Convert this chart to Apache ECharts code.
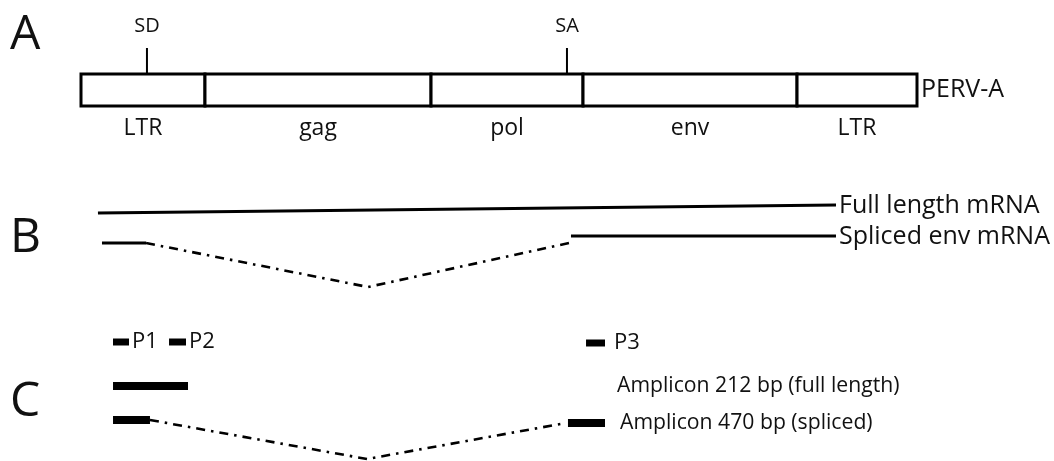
<!DOCTYPE html>
<html><head><meta charset="utf-8">
<script src="https://cdn.jsdelivr.net/npm/echarts@6/dist/echarts.min.js"></script>
<style>html,body{margin:0;padding:0;background:#fff}#c{width:1054px;height:461px}</style>
</head><body><div id="c"></div>
<script>
// ---- data (x in % of provirus length) ----
const regionNames = ['LTR', 'gag', 'pol', 'env', 'LTR'];
const regionStarts = [0, 14.83, 41.87, 60.05, 85.65];
const regionEnds = [14.83, 41.87, 60.05, 85.65, 100];
const genomeLabel = 'PERV-A';
const siteNames = ['SD', 'SA'];
const sitePositions = [7.89, 58.13];

const transcriptLabels = ['Full length mRNA', 'Spliced env mRNA'];
const fullLengthX = [2.03, 90.31];
const splicedExon1X = [2.51, 7.78];
const splicedIntronX = [7.78, 34.33, 58.37];
const splicedExon2X = [58.61, 90.31];

const primerNames = ['P1', 'P2', 'P3'];
const primerStarts = [3.83, 10.53, 60.41];
const primerEnds = [5.74, 12.56, 62.68];

const ampliconLabels = ['Amplicon 212 bp (full length)', 'Amplicon 470 bp (spliced)'];
const ampFullX = [3.83, 12.8];
const ampSplicedExon1X = [3.83, 8.25];
const ampSplicedIntronX = [8.25, 34.21, 58.01];
const ampSplicedExon2X = [58.25, 62.68];

const panelLetters = ['A', 'B', 'C'];

// ---- layout (vertical track positions, y units top-down) ----
const L = {
  siteText: 26, siteTop: 48, boxTop: 74, boxBot: 106, regionText: 128,
  fullL: 213, fullR: 205, spl1: 243, splLow: 287, spl2: 236,
  primer: 342, primer3: 343, ampFull: 386, ampSpl1: 420, ampLow: 459, ampSpl2: 423
};
const FONT = 'Open Sans';

const chart = echarts.init(document.getElementById('c'), null, {renderer: 'canvas'});

function textEl(p, text, size, align, vAlign) {
  return {type: 'text', x: p[0], y: p[1], style: {text: text, fill: '#111', font: size + 'px "' + FONT + '"', textAlign: align, textVerticalAlign: vAlign}};
}
function barRect(api, x0, x1, yc, h) {
  const a = api.coord([x0, yc]), b = api.coord([x1, yc]);
  return {type: 'rect', shape: {x: a[0], y: a[1] - h / 2, width: b[0] - a[0], height: h}, style: {fill: '#000'}};
}

const solid = {color: '#000', width: 3, type: 'solid'};
const dashDot = {color: '#000', width: 2.6, type: [9, 6, 2.5, 6]};

const option = {
  animation: false,
  grid: {left: 81, right: 137, top: 0, bottom: 0},
  xAxis: {type: 'value', min: 0, max: 100, show: false},
  yAxis: {type: 'value', min: 0, max: 461, inverse: true, show: false},
  graphic: panelLetters.map((t, i) => ({
    type: 'text', left: 10, top: [11, 214, 378][i],
    style: {text: t, font: '48px "' + FONT + '"', fill: '#111'}
  })),
  series: [
    { // genome regions
      type: 'custom', clip: false,
      data: regionNames.map((n, i) => [regionStarts[i], regionEnds[i]]),
      renderItem: function (params, api) {
        const s = api.value(0), e = api.value(1);
        const a = api.coord([s, L.boxTop]), b = api.coord([e, L.boxBot]);
        const mid = api.coord([(s + e) / 2, L.regionText]);
        const children = [
          {type: 'rect', shape: {x: a[0], y: a[1], width: b[0] - a[0], height: b[1] - a[1]}, style: {fill: '#fff', stroke: '#000', lineWidth: 3}},
          textEl(mid, regionNames[params.dataIndex], 23, 'center', 'middle')
        ];
        if (params.dataIndex === regionNames.length - 1) {
          const r = api.coord([e, (L.boxTop + L.boxBot) / 2]);
          children.push(textEl([r[0] + 4, r[1]], genomeLabel, 25, 'left', 'middle'));
        }
        return {type: 'group', children: children};
      }
    },
    { // splice sites
      type: 'custom', clip: false,
      data: sitePositions.map(p => [p]),
      renderItem: function (params, api) {
        const x = api.value(0);
        const top = api.coord([x, L.siteTop]), bot = api.coord([x, L.boxTop]);
        const t = api.coord([x, L.siteText]);
        return {type: 'group', children: [
          {type: 'line', shape: {x1: top[0], y1: top[1], x2: bot[0], y2: bot[1]}, style: {stroke: '#000', lineWidth: 2}},
          textEl(t, siteNames[params.dataIndex], 20, 'center', 'middle')
        ]};
      }
    },
    { // full length mRNA
      type: 'line', symbol: 'none', lineStyle: solid,
      data: [[fullLengthX[0], L.fullL], [fullLengthX[1], L.fullR]]
    },
    { // spliced env mRNA exon 1
      type: 'line', symbol: 'none', lineStyle: solid,
      data: [[splicedExon1X[0], L.spl1], [splicedExon1X[1], L.spl1]]
    },
    { // spliced intron
      type: 'line', symbol: 'none', lineStyle: dashDot,
      data: [[splicedIntronX[0], L.spl1], [splicedIntronX[1], L.splLow], [splicedIntronX[2], L.spl1]]
    },
    { // spliced exon 2
      type: 'line', symbol: 'none', lineStyle: solid,
      data: [[splicedExon2X[0], L.spl2], [splicedExon2X[1], L.spl2]]
    },
    { // transcript labels
      type: 'custom', clip: false,
      data: [[fullLengthX[1], L.fullR], [splicedExon2X[1], L.spl2]],
      renderItem: function (params, api) {
        const p = api.coord([api.value(0), api.value(1)]);
        return textEl([p[0] + 3, p[1] + 1], transcriptLabels[params.dataIndex], 25, 'left', 'middle');
      }
    },
    { // primers
      type: 'custom', clip: false,
      data: primerNames.map((n, i) => [primerStarts[i], primerEnds[i]]),
      renderItem: function (params, api) {
        const y = params.dataIndex === 2 ? L.primer3 : L.primer;
        const s = api.value(0), e = api.value(1);
        const r = api.coord([e, y]);
        const gap = params.dataIndex === 2 ? 9 : 3;
        return {type: 'group', children: [
          barRect(api, s, e, y, 7),
          textEl([r[0] + gap, r[1]], primerNames[params.dataIndex], 22, 'left', 'middle')
        ]};
      }
    },
    { // amplicons: bars
      type: 'custom', clip: false,
      data: [[ampFullX[0], ampFullX[1], L.ampFull], [ampSplicedExon1X[0], ampSplicedExon1X[1], L.ampSpl1], [ampSplicedExon2X[0], ampSplicedExon2X[1], L.ampSpl2]],
      renderItem: function (params, api) {
        return barRect(api, api.value(0), api.value(1), api.value(2), 8);
      }
    },
    { // amplicon spliced intron
      type: 'line', symbol: 'none', lineStyle: dashDot, clip: false,
      data: [[ampSplicedIntronX[0], L.ampSpl1], [ampSplicedIntronX[1], L.ampLow], [ampSplicedIntronX[2], L.ampSpl2]]
    },
    { // amplicon labels
      type: 'custom', clip: false,
      data: [[ampSplicedExon2X[1], L.ampFull], [ampSplicedExon2X[1], L.ampSpl2]],
      renderItem: function (params, api) {
        const p = api.coord([api.value(0), api.value(1)]);
        return textEl([p[0] + (params.dataIndex === 0 ? 12 : 15), p[1]], ampliconLabels[params.dataIndex], 21.2, 'left', 'middle');
      }
    }
  ]
};
chart.setOption(option);
</script>
</body></html>
